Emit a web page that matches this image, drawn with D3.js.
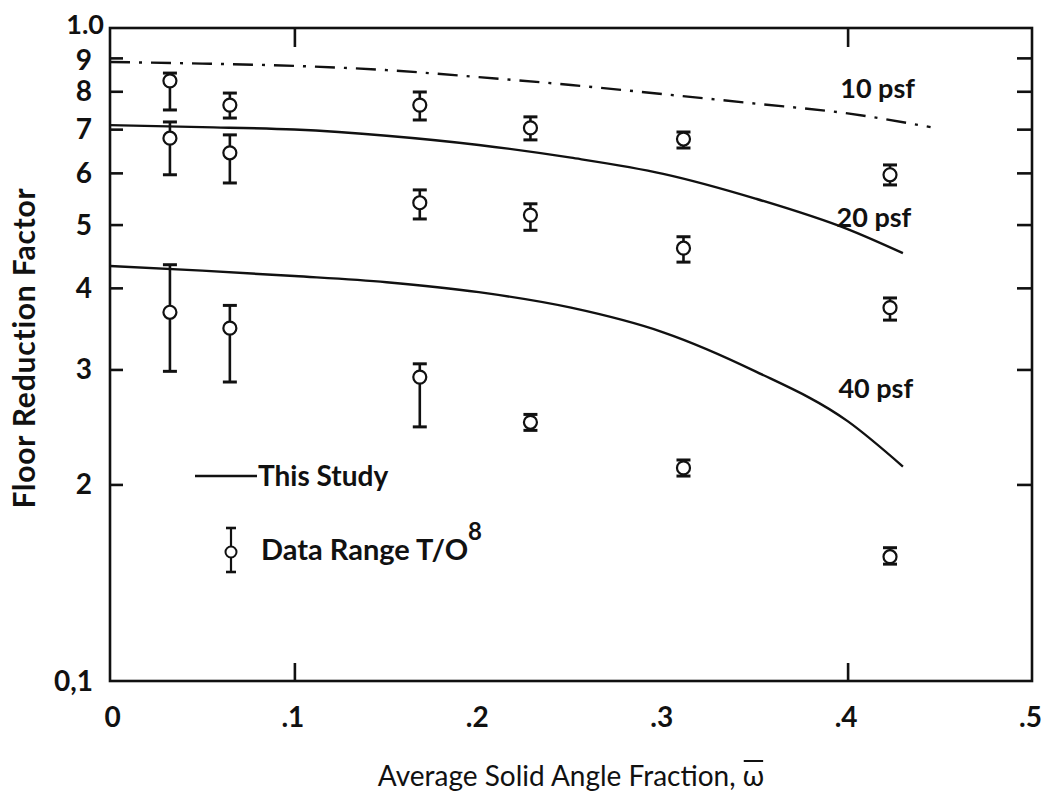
<!DOCTYPE html>
<html>
<head>
<meta charset="utf-8">
<script src="https://cdn.jsdelivr.net/npm/d3@7/dist/d3.min.js"></script>
<style>
  html, body { margin: 0; padding: 0; background: #fff; }
  svg { display: block; }
  text { font-family: Lato, "Liberation Sans", sans-serif; fill: #111; }
</style>
</head>
<body>
<svg id="chart" width="1046" height="800"></svg>
<script>
// Floor reduction factor vs. average solid angle fraction

// Curves computed in this study (one per floor loading)
const curveOmega10 = [0, 0.05, 0.1, 0.15, 0.2, 0.25, 0.3, 0.35, 0.4, 0.445];
const curve10psf   = [0.887, 0.882, 0.875, 0.862, 0.841, 0.818, 0.792, 0.766, 0.740, 0.705];
const curveOmega   = [0, 0.05, 0.1, 0.15, 0.2, 0.25, 0.3, 0.35, 0.4, 0.43];
const curve20psf   = [0.710, 0.705, 0.699, 0.684, 0.662, 0.633, 0.598, 0.548, 0.492, 0.452];
const curve40psf   = [0.432, 0.425, 0.417, 0.408, 0.394, 0.373, 0.342, 0.298, 0.250, 0.213];

// Measured data ranges (T/O ref. 8)
const dataOmega = [0.0325, 0.065, 0.168, 0.228, 0.311, 0.423];
const mean10 = [0.830, 0.762, 0.762, 0.703, 0.676, 0.596];
const low10  = [0.749, 0.728, 0.723, 0.674, 0.655, 0.575];
const high10 = [0.853, 0.795, 0.798, 0.731, 0.693, 0.617];
const mean20 = [0.678, 0.644, 0.540, 0.517, 0.460, 0.373];
const low20  = [0.596, 0.579, 0.510, 0.490, 0.438, 0.357];
const high20 = [0.718, 0.686, 0.565, 0.538, 0.479, 0.386];
const mean40 = [0.367, 0.347, 0.292, 0.249, 0.212, 0.155];
const low40  = [0.298, 0.287, 0.245, 0.242, 0.206, 0.151];
const high40 = [0.434, 0.376, 0.306, 0.256, 0.218, 0.160];

const curveNames = ["10 psf", "20 psf", "40 psf"];

// Axis ticks
const xTickValues = [0, 0.1, 0.2, 0.3, 0.4, 0.5];
const xTickLabels = ["0", ".1", ".2", ".3", ".4", ".5"];
const xMarkTicks  = [0.1, 0.4];
const yTickValues = [0.1, 0.2, 0.3, 0.4, 0.5, 0.6, 0.7, 0.8, 0.9, 1.0];
const yTickLabels = ["0,1", "2", "3", "4", "5", "6", "7", "8", "9", "1.0"];
const yMarkTicks  = [0.2, 0.3, 0.4, 0.5, 0.6, 0.7, 0.8, 0.9];

const svg = d3.select("#chart");
svg.append("rect").attr("width", 1046).attr("height", 800).attr("fill", "#fff");

const x = d3.scaleLinear().domain([0, 0.5]).range([110, 1032]);
const y = d3.scaleLog().domain([0.1, 1]).range([681, 28]);

const ink = "#111";

// Frame
svg.append("rect")
  .attr("x", x(0)).attr("y", y(1))
  .attr("width", x(0.5) - x(0)).attr("height", y(0.1) - y(1))
  .attr("fill", "none").attr("stroke", ink).attr("stroke-width", 2.6);

function styleAxis(g) {
  g.select(".domain").remove();
  g.selectAll(".tick line").attr("stroke", ink).attr("stroke-width", 2.6);
  g.selectAll(".tick text").attr("fill", ink);
}

// Left axis labels
const yLabelOf = v => yTickLabels[yTickValues.indexOf(v)];
const leftAxis = svg.append("g").attr("transform", `translate(${x(0)},0)`)
  .call(d3.axisLeft(y).tickValues(yTickValues).tickSize(0).tickPadding(18)
    .tickFormat(yLabelOf));
styleAxis(leftAxis);
leftAxis.selectAll(".tick text")
  .attr("font-size", d => d === 1.0 ? 27 : 28).attr("font-weight", 700)
  .attr("font-family", "Lato, 'Liberation Sans', sans-serif")
  .attr("dx", d => d === 1.0 ? 12 : (d === 0.1 ? 1 : 0))
  .attr("dy", d => d === 1.0 ? "0.22em" : (d === 0.9 ? "0.40em" : "0.34em"));

// Left axis: inward ticks
svg.append("g").attr("transform", `translate(${x(0)},0)`)
  .call(d3.axisLeft(y).tickValues(yMarkTicks).tickSize(-13).tickFormat(""))
  .call(styleAxis);

// Right axis: inward ticks
svg.append("g").attr("transform", `translate(${x(0.5)},0)`)
  .call(d3.axisRight(y).tickValues(yMarkTicks).tickSize(-15).tickFormat(""))
  .call(styleAxis);

// Top and bottom tick marks
svg.append("g").attr("transform", `translate(0,${y(1)})`)
  .call(d3.axisTop(x).tickValues(xMarkTicks).tickSize(-19).tickFormat(""))
  .call(styleAxis);
svg.append("g").attr("transform", `translate(0,${y(0.1)})`)
  .call(d3.axisBottom(x).tickValues(xMarkTicks).tickSize(-18).tickFormat(""))
  .call(styleAxis);

// Bottom labels
const bottomAxis = svg.append("g").attr("transform", `translate(0,${y(0.1)})`)
  .call(d3.axisBottom(x).tickValues(xTickValues).tickSize(0).tickPadding(26)
    .tickFormat(v => xTickLabels[xTickValues.indexOf(v)]));
styleAxis(bottomAxis);
bottomAxis.selectAll(".tick text")
  .attr("font-size", 28).attr("font-weight", 700)
  .attr("font-family", "Lato, 'Liberation Sans', sans-serif")
  .attr("dx", d => d === 0 ? 2 : -2);

// Axis titles
const xTitle = svg.append("text")
  .attr("x", (x(0) + x(0.5)) / 2).attr("y", 786)
  .attr("text-anchor", "middle")
  .attr("font-size", 28).attr("font-weight", 400);
xTitle.append("tspan").text("Average Solid Angle Fraction, ");
xTitle.append("tspan").text("ω");

svg.append("text")
  .attr("transform", "translate(35,348) rotate(-90)")
  .attr("text-anchor", "middle")
  .attr("font-size", 30).attr("font-weight", 700)
  .attr("letter-spacing", 0.8)
  .text("Floor Reduction Factor");

// Bar over omega
{
  const node = xTitle.node();
  const n = node.getNumberOfChars();
  const start = node.getStartPositionOfChar(n - 1);
  const end = node.getEndPositionOfChar(n - 1);
  svg.append("line")
    .attr("x1", start.x + 1).attr("x2", end.x - 1)
    .attr("y1", 761).attr("y2", 761)
    .attr("stroke", ink).attr("stroke-width", 2);
}

// Curves
const line = d3.line()
  .x(d => x(d[0])).y(d => y(d[1]))
  .curve(d3.curveMonotoneX);

const curves = [
  { name: curveNames[0], pts: d3.zip(curveOmega10, curve10psf), dash: "20,9,3,9" },
  { name: curveNames[1], pts: d3.zip(curveOmega, curve20psf), dash: null },
  { name: curveNames[2], pts: d3.zip(curveOmega, curve40psf), dash: null }
];

svg.append("g").selectAll("path").data(curves).join("path")
  .attr("d", c => line(c.pts))
  .attr("fill", "none").attr("stroke", ink).attr("stroke-width", 2.4)
  .attr("stroke-dasharray", c => c.dash);

// Curve labels (baseline positions in data units)
const labelAnchors = [[0.396, 0.781], [0.394, 0.496], [0.395, 0.271]];
svg.append("g").selectAll("text").data(curveNames).join("text")
  .attr("x", (d, i) => x(labelAnchors[i][0]))
  .attr("y", (d, i) => y(labelAnchors[i][1]))
  .attr("font-size", 27).attr("font-weight", 700)
  .text(d => d);

// Data range error bars
const ranges = [];
[[mean10, low10, high10], [mean20, low20, high20], [mean40, low40, high40]]
  .forEach(([m, lo, hi]) => {
    dataOmega.forEach((w, i) => ranges.push({ w, m: m[i], lo: lo[i], hi: hi[i] }));
  });

const cap = 7;
const bars = svg.append("g").selectAll("g").data(ranges).join("g");
bars.append("line")
  .attr("x1", d => x(d.w)).attr("x2", d => x(d.w))
  .attr("y1", d => y(d.hi)).attr("y2", d => y(d.lo))
  .attr("stroke", ink).attr("stroke-width", 2.6);
bars.append("line")
  .attr("x1", d => x(d.w) - cap).attr("x2", d => x(d.w) + cap)
  .attr("y1", d => y(d.hi)).attr("y2", d => y(d.hi))
  .attr("stroke", ink).attr("stroke-width", 3);
bars.append("line")
  .attr("x1", d => x(d.w) - cap).attr("x2", d => x(d.w) + cap)
  .attr("y1", d => y(d.lo)).attr("y2", d => y(d.lo))
  .attr("stroke", ink).attr("stroke-width", 3);
bars.append("circle")
  .attr("cx", d => x(d.w)).attr("cy", d => y(d.m)).attr("r", 6.5)
  .attr("fill", "#fff").attr("stroke", ink).attr("stroke-width", 2.2);

// Legend
const legend = svg.append("g");
legend.append("line")
  .attr("x1", 195).attr("x2", 257).attr("y1", 476).attr("y2", 476)
  .attr("stroke", ink).attr("stroke-width", 2.4);
legend.append("text").attr("x", 258).attr("y", 486)
  .attr("font-size", 28).attr("font-weight", 700).text("This Study");

legend.append("line").attr("x1", 231).attr("x2", 231).attr("y1", 528).attr("y2", 572)
  .attr("stroke", ink).attr("stroke-width", 2.2);
legend.append("line").attr("x1", 226).attr("x2", 236).attr("y1", 528).attr("y2", 528)
  .attr("stroke", ink).attr("stroke-width", 2.6);
legend.append("line").attr("x1", 226).attr("x2", 236).attr("y1", 572).attr("y2", 572)
  .attr("stroke", ink).attr("stroke-width", 2.6);
legend.append("circle").attr("cx", 231).attr("cy", 552).attr("r", 5.5)
  .attr("fill", "#fff").attr("stroke", ink).attr("stroke-width", 2);
const dr = legend.append("text").attr("x", 261).attr("y", 560)
  .attr("font-size", 29).attr("font-weight", 700);
dr.append("tspan").text("Data Range T/O");
dr.append("tspan").attr("dy", -20).attr("font-size", 24).text("8");
</script>
</body>
</html>
